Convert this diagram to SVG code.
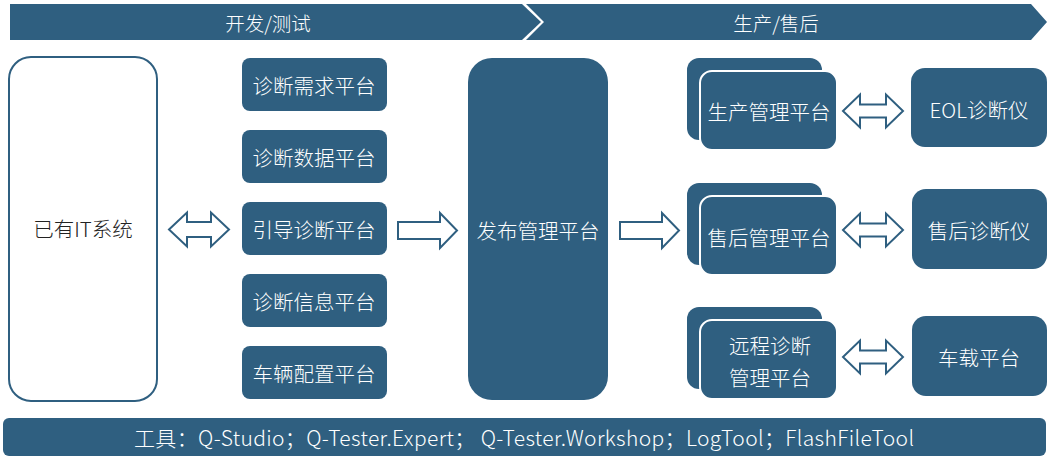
<svg xmlns="http://www.w3.org/2000/svg" width="1051" height="460" viewBox="0 0 1051 460">
<style>
.dk{fill:#2f5f80}
.fr{fill:#2f5f80;stroke:#ffffff;stroke-width:2}
.ar{fill:#ffffff;stroke:#2f5f80;stroke-width:2;stroke-linejoin:miter}
.wt{fill:#ffffff;font-family:"Noto Sans CJK SC","Noto Sans",sans-serif;font-size:20.5px;font-weight:300;text-anchor:middle;dominant-baseline:central}
.bk{fill:#222222;font-family:"Noto Sans CJK SC","Noto Sans",sans-serif;font-size:20.5px;font-weight:300;text-anchor:middle;dominant-baseline:central}
.hd{font-size:19.5px}
</style>
<rect width="1051" height="460" fill="#ffffff"/>
<g id="header-dev">
<polygon class="dk" points="10,4 522,4 541,22 522,40 10,40"/>
<text class="wt hd" x="268" y="22">开发/测试</text>
</g>
<g id="header-prod">
<polygon class="dk" points="526,4 1031,4 1047,22 1031,40 526,40 544,22"/>
<text class="wt hd" x="776" y="22">生产/售后</text>
</g>
<g id="it-system">
<rect x="9" y="57" width="148" height="344" rx="22" fill="#ffffff" stroke="#2f5f80" stroke-width="2"/>
<text class="bk" x="83" y="228">已有IT系统</text>
</g>
<g id="req-platform">
<rect class="dk" x="242" y="58" width="145" height="53" rx="8"/>
<text class="wt" x="314" y="85">诊断需求平台</text>
</g>
<g id="data-platform">
<rect class="dk" x="242" y="130" width="145" height="53" rx="8"/>
<text class="wt" x="314" y="157">诊断数据平台</text>
</g>
<g id="guide-platform">
<rect class="dk" x="242" y="202" width="145" height="53" rx="8"/>
<text class="wt" x="314" y="229">引导诊断平台</text>
</g>
<g id="info-platform">
<rect class="dk" x="242" y="274" width="145" height="53" rx="8"/>
<text class="wt" x="314" y="301">诊断信息平台</text>
</g>
<g id="vehicle-config-platform">
<rect class="dk" x="242" y="346" width="145" height="53" rx="8"/>
<text class="wt" x="314" y="373">车辆配置平台</text>
</g>
<g id="release-platform">
<rect class="dk" x="468" y="58" width="140" height="342" rx="24"/>
<text class="wt" x="538" y="230">发布管理平台</text>
</g>
<g id="production-platform">
<rect class="dk" x="687" y="58" width="135" height="82" rx="12"/>
<rect class="fr" x="700" y="71" width="137" height="79" rx="12"/>
<text class="wt" x="769" y="111">生产管理平台</text>
</g>
<g id="aftersales-platform">
<rect class="dk" x="687" y="183" width="135" height="82" rx="12"/>
<rect class="fr" x="700" y="196" width="137" height="79" rx="12"/>
<text class="wt" x="769" y="237">售后管理平台</text>
</g>
<g id="remote-platform">
<rect class="dk" x="687" y="307" width="135" height="82" rx="12"/>
<rect class="fr" x="700" y="320" width="137" height="79" rx="12"/>
<text class="wt" x="770" y="345">远程诊断</text>
<text class="wt" x="770" y="377">管理平台</text>
</g>
<g id="eol-tester">
<rect class="dk" x="911" y="68" width="136" height="79" rx="14"/>
<text class="wt" x="979" y="109">EOL诊断仪</text>
</g>
<g id="aftersales-tester">
<rect class="dk" x="912" y="189" width="135" height="80" rx="14"/>
<text class="wt" x="979" y="230">售后诊断仪</text>
</g>
<g id="onboard-platform">
<rect class="dk" x="912" y="316" width="135" height="80" rx="14"/>
<text class="wt" x="979" y="357">车载平台</text>
</g>
<g id="connectors">
<path class="ar" d="M169,229.5 L187,212.5 L187,222 L211,222 L211,212.5 L229,229.5 L211,246.5 L211,237 L187,237 L187,246.5 Z"/>
<path class="ar" d="M398,222 L440,222 L440,213 L457,230.5 L440,248 L440,239 L398,239 Z"/>
<path class="ar" d="M620,222 L662,222 L662,213 L679,230.5 L662,248 L662,239 L620,239 Z"/>
<path class="ar" d="M843,111 L860,94.5 L860,104.5 L886,104.5 L886,94.5 L903,111 L886,127.5 L886,117.5 L860,117.5 L860,127.5 Z"/>
<path class="ar" d="M843,230 L860,213.5 L860,223.5 L886,223.5 L886,213.5 L903,230 L886,246.5 L886,236.5 L860,236.5 L860,246.5 Z"/>
<path class="ar" d="M843,357 L860,340.5 L860,350.5 L886,350.5 L886,340.5 L903,357 L886,373.5 L886,363.5 L860,363.5 L860,373.5 Z"/>
</g>
<g id="tools-bar">
<rect class="dk" x="3" y="418" width="1043" height="38" rx="6"/>
<text class="wt" x="524" y="437" style="font-size:21px" textLength="780" lengthAdjust="spacing">工具：Q-Studio；Q-Tester.Expert； Q-Tester.Workshop；LogTool；FlashFileTool</text>
</g>
</svg>
